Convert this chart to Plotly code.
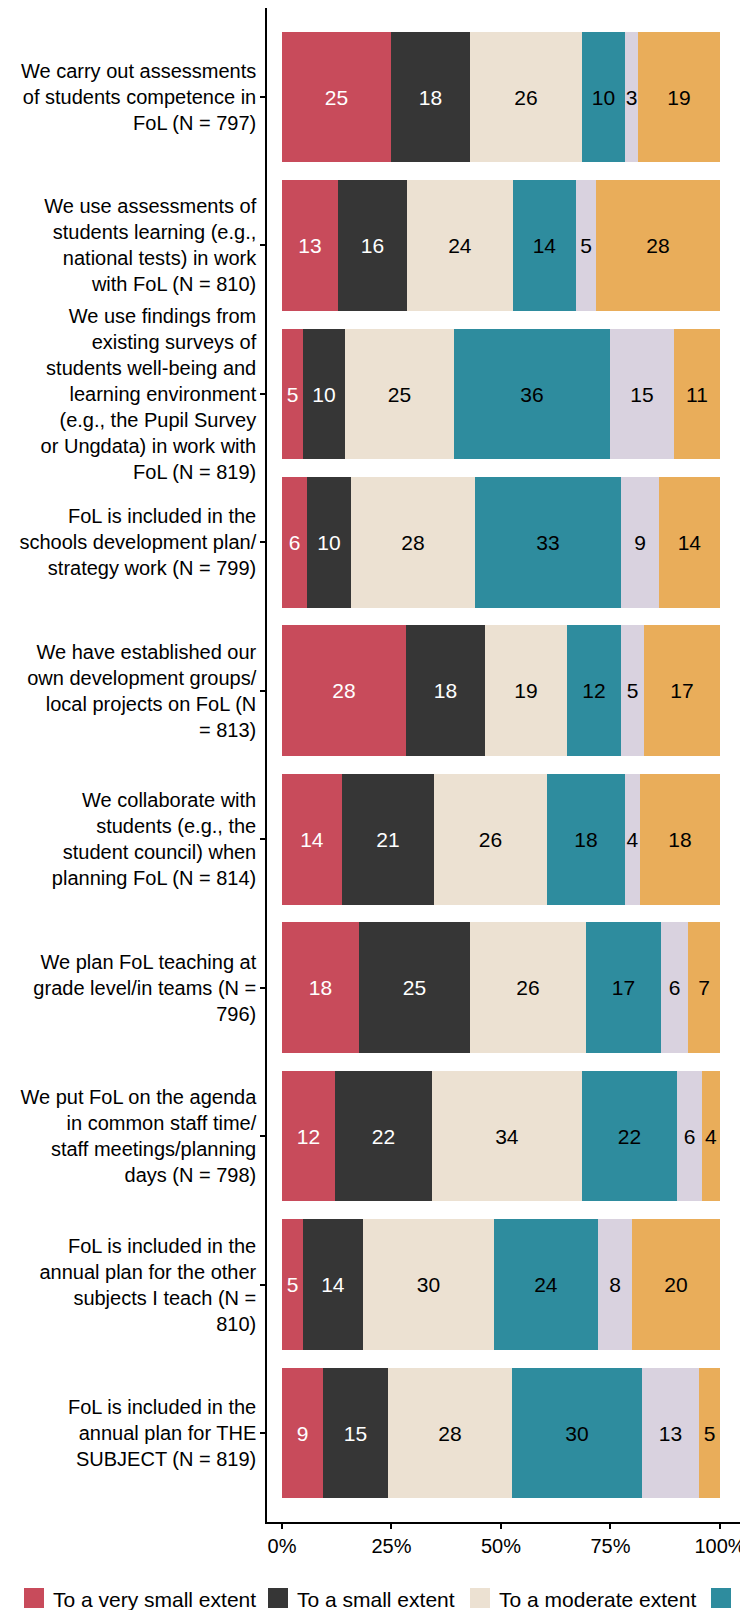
import plotly.graph_objects as go

categories = [
    "We carry out assessments<br>of students competence in<br>FoL (N = 797)",
    "We use assessments of<br>students learning (e.g.,<br>national tests) in work<br>with FoL (N = 810)",
    "We use findings from<br>existing surveys of<br>students well-being and<br>learning environment<br>(e.g., the Pupil Survey<br>or Ungdata) in work with<br>FoL (N = 819)",
    "FoL is included in the<br>schools development plan/<br>strategy work (N = 799)",
    "We have established our<br>own development groups/<br>local projects on FoL (N<br>= 813)",
    "We collaborate with<br>students (e.g., the<br>student council) when<br>planning FoL (N = 814)",
    "We plan FoL teaching at<br>grade level/in teams (N =<br>796)",
    "We put FoL on the agenda<br>in common staff time/<br>staff meetings/planning<br>days (N = 798)",
    "FoL is included in the<br>annual plan for the other<br>subjects I teach (N =<br>810)",
    "FoL is included in the<br>annual plan for THE<br>SUBJECT (N = 819)",
]

series_names = ["To a very small extent", "To a small extent", "To a moderate extent",
                "To a large extent", "To a very large extent", "Don't know"]
colors = ["#C84B5B", "#363636", "#ECE1D2", "#2E8C9E", "#D9D2DF", "#E9AD5A"]
text_colors = ["white", "white", "black", "black", "black", "black"]

very_small = [24.9, 12.7, 4.8, 5.6, 28.2, 13.6, 17.6, 12.1, 4.7, 9.4]
small = [18.1, 15.9, 9.6, 10.2, 18.1, 21.2, 25.4, 22.1, 13.8, 14.8]
moderate = [25.6, 24.2, 24.8, 28.2, 18.8, 25.8, 26.4, 34.3, 30.0, 28.3]
large = [9.6, 14.3, 35.6, 33.3, 12.2, 17.6, 17.1, 21.6, 23.7, 29.7]
very_large = [3.0, 4.7, 14.6, 8.8, 5.3, 3.6, 6.1, 5.7, 7.6, 13.0]
dont_know = [18.8, 28.2, 10.6, 13.9, 17.4, 18.2, 7.4, 4.2, 20.2, 4.8]

x_tick_vals = [0, 25, 50, 75, 100]
x_tick_text = ["0%", "25%", "50%", "75%", "100%"]

series_values = [very_small, small, moderate, large, very_large, dont_know]

FONT = "Liberation Sans, Arial, Helvetica, sans-serif"
# the page places the figure at an 8px body offset, so the figure is 8px smaller
OFF = 8
W, H = 748 - OFF, 1610 - OFF
ML, MR, MT, MB = 267 - OFF, 8, 8 - OFF, 88

fig = go.Figure()
for name, vals, col, tcol in zip(series_names, series_values, colors, text_colors):
    fig.add_trace(go.Bar(
        y=categories, x=vals, name=name, orientation="h",
        marker=dict(color=col, line=dict(width=0)),
        width=0.88,
        text=[str(round(v)) for v in vals],
        textposition="inside", insidetextanchor="middle", textangle=0,
        constraintext="none", cliponaxis=False,
        insidetextfont=dict(color=tcol, size=21, family=FONT),
        showlegend=False, hoverinfo="x+name",
    ))

# legend drawn as a single row (reference legend runs past the right edge)
pw = W - ML - MR
ph = H - MT - MB
def px_x(px):
    return (px - OFF - ML) / pw
def px_y(py):
    return (H - MB - (py - OFF)) / ph

legend_x_px = [24, 268, 470, 711, 960, 1200]
sq = 20
y_top = 1588
for name, col, lx in zip(series_names, colors, legend_x_px):
    fig.add_shape(type="rect", xref="paper", yref="paper",
                  x0=px_x(lx), x1=px_x(lx + sq), y0=px_y(y_top + sq), y1=px_y(y_top),
                  fillcolor=col, line=dict(width=0))
    fig.add_annotation(xref="paper", yref="paper", x=px_x(lx + 27), y=px_y(y_top + sq / 2 + 1),
                       xanchor="left", yanchor="middle", text=name, showarrow=False,
                       font=dict(size=21, color="black", family=FONT))

fig.update_layout(
    width=W, height=H,
    margin=dict(l=ML, r=MR, t=MT, b=MB, autoexpand=False),
    barmode="stack",
    plot_bgcolor="white", paper_bgcolor="white",
    font=dict(family=FONT, size=20, color="black"),
    showlegend=False,
    bargap=0,
)
fig.update_xaxes(
    range=[-3.42, 104.57], tickvals=x_tick_vals, ticktext=x_tick_text,
    showgrid=False, zeroline=False, showline=True, linecolor="black", linewidth=1.5,
    ticks="outside", ticklen=5, tickwidth=1.5, tickcolor="black",
    tickfont=dict(size=20, color="black", family=FONT),
)
fig.update_yaxes(
    type="category", categoryorder="array", categoryarray=categories,
    range=[9.6, -0.6],
    showgrid=False, zeroline=False, showline=True, linecolor="black", linewidth=1.5,
    ticks="outside", ticklen=5, tickwidth=1.5, tickcolor="black",
    tickfont=dict(size=20, color="black", family=FONT),
)

fig.write_html("out.html")
